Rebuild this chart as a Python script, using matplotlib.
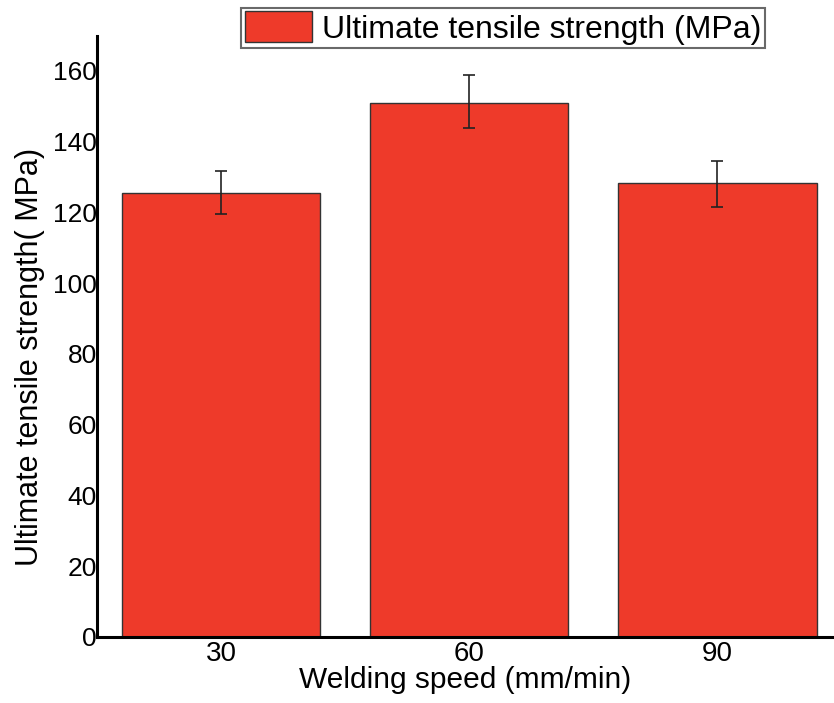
import matplotlib.pyplot as plt
import numpy as np

# data
speeds = ["30", "60", "90"]
uts = [125.5, 151.0, 128.2]
err_lo = [6.0, 7.1, 6.6]
err_hi = [6.2, 7.9, 6.4]

plt.rcParams['font.family'] = ['Liberation Sans', 'DejaVu Sans']

fig = plt.figure(figsize=(8.34, 7.03), dpi=100)
ax = fig.add_axes([97/834, 66/703, 1 - 97/834, (637 - 35.6)/703])

x = np.arange(len(speeds))
ax.bar(x, uts, width=0.8, color='#ee3a2a', edgecolor='#333333', linewidth=1.0,
       label='Ultimate tensile strength (MPa)', zorder=2)
ax.errorbar(x, uts, yerr=[err_lo, err_hi], fmt='none', ecolor='#222222',
            elinewidth=1.2, capsize=4.5, capthick=1.2, zorder=3)

ax.set_xlim(-0.5, 2.47)
ax.set_ylim(0, 170)
ax.set_yticks(np.arange(0, 161, 20))
ax.set_xticks(x)
ax.set_xticklabels(speeds)
ax.tick_params(axis='y', length=0, labelsize=19, pad=0)
ax.tick_params(axis='x', length=0, labelsize=20, pad=3)

for s in ['top', 'right']:
    ax.spines[s].set_visible(False)
for s in ['left', 'bottom']:
    ax.spines[s].set_linewidth(2.2)
    ax.spines[s].set_color('black')

ax.set_xlabel('Welding speed (mm/min)', fontsize=21.5, labelpad=-1)
ax.set_ylabel('Ultimate tensile strength( MPa)', fontsize=22)
ax.yaxis.set_label_coords(-0.07, 0.466)

leg = fig.legend(loc='center', bbox_to_anchor=(503/834, 1 - 28/703), fontsize=23,
                 frameon=True, fancybox=False, edgecolor='#444444',
                 handlelength=2.1, handleheight=1.1, handletextpad=0.3,
                 borderpad=0.12, borderaxespad=0)
leg.get_frame().set_linewidth(1.5)

fig.savefig('out.png', dpi=100)
